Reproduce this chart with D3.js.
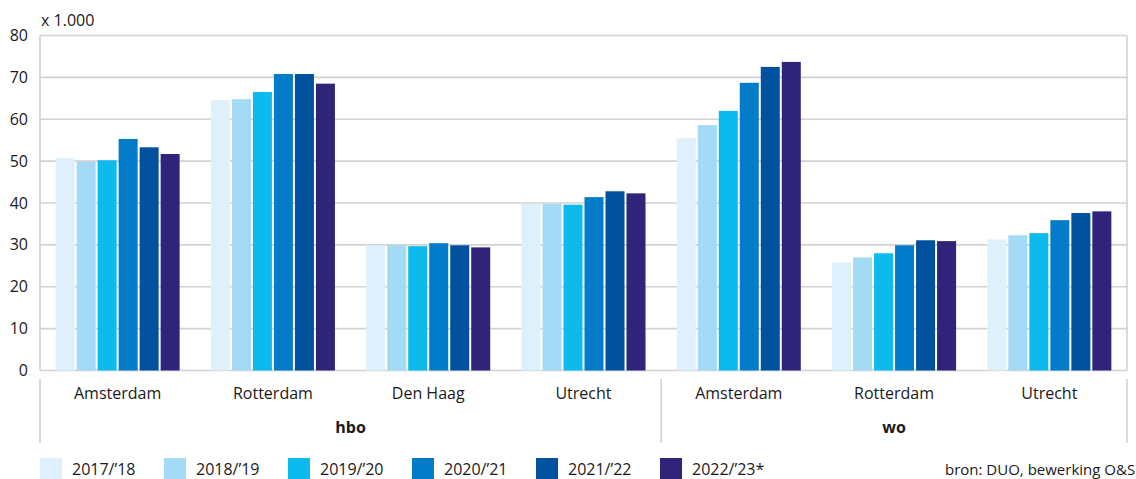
<!DOCTYPE html>
<html><head><meta charset="utf-8">
<script src="https://cdn.jsdelivr.net/npm/d3@7"></script>
<style>body{margin:0;background:#fff}svg{display:block}text{font-family:"Open Sans",sans-serif;fill:#1a1a1a}</style>
</head><body><svg id="c" width="1136" height="479"></svg>
<script>
const categories = ["Amsterdam","Rotterdam","Den Haag","Utrecht","Amsterdam","Rotterdam","Utrecht"];
const groups = [{name:"hbo", start:0, end:4},{name:"wo", start:4, end:7}];
const seriesNames = ["2017/’18","2018/’19","2019/’20","2020/’21","2021/’22","2022/’23*"];
const s2017 = [50.7,64.6,29.9,39.8,55.5,25.8,31.3];
const s2018 = [49.8,64.8,29.9,39.8,58.6,27.0,32.3];
const s2019 = [50.2,66.5,29.7,39.6,62.0,28.0,32.8];
const s2020 = [55.3,70.8,30.4,41.4,68.7,29.9,35.9];
const s2021 = [53.3,70.8,29.9,42.8,72.5,31.1,37.6];
const s2022 = [51.7,68.5,29.4,42.3,73.7,30.9,38.0];
const yTicks = [0,10,20,30,40,50,60,70,80];
const colors = ["#dff0fd","#a3daf6","#0dbaee","#027cc8","#00519e","#2f2479"];
const series = [s2017,s2018,s2019,s2020,s2021,s2022];

const svg = d3.select("#c");
const L=40, R=1127, T=35.5, B=370.5;
const x0 = d3.scaleBand().domain(d3.range(categories.length)).range([L,R]).paddingInner(0).paddingOuter(0);
const x1 = d3.scaleBand().domain(d3.range(series.length)).range([0,x0.bandwidth()]).paddingInner(0.095).paddingOuter(0.745);
const y = d3.scaleLinear().domain([0,80]).range([B,T]);

// gridlines
svg.append("g").selectAll("line").data(yTicks).join("line")
  .attr("x1",L).attr("x2",R).attr("y1",d=>y(d)).attr("y2",d=>y(d))
  .attr("stroke","#d2d2d2").attr("stroke-width",1.6);
// frame verticals
[L,R].forEach(xx=>svg.append("line").attr("x1",xx).attr("x2",xx).attr("y1",T).attr("y2",B)
  .attr("stroke","#cfcfcf").attr("stroke-width",1.5));

// y labels
svg.append("g").selectAll("text").data(yTicks).join("text")
  .attr("x",28).attr("y",d=>y(d)).attr("dy","0.35em").attr("text-anchor","end")
  .attr("font-size",16).text(d=>d);
svg.append("text").attr("x",41).attr("y",26).attr("font-size",16).text("x 1.000");

// bars
series.forEach((s,si)=>{
  svg.append("g").selectAll("rect").data(s).join("rect")
    .attr("x",(d,i)=>x0(i)+x1(si)).attr("width",x1.bandwidth())
    .attr("y",d=>y(d)).attr("height",d=>B-y(d)).attr("fill",colors[si]);
});

// category labels
svg.append("g").selectAll("text").data(categories).join("text")
  .attr("x",(d,i)=>x0(i)+x0.bandwidth()/2).attr("y",399).attr("text-anchor","middle")
  .attr("font-size",16).text(d=>d);
// group separators
const seps=[L, x0(4), R];
seps.forEach(xx=>svg.append("line").attr("x1",xx).attr("x2",xx).attr("y1",379).attr("y2",443)
  .attr("stroke","#cfcfcf").attr("stroke-width",1.5));
groups.forEach(g=>{
  const a=x0(g.start), b=g.end<categories.length?x0(g.end):R;
  svg.append("text").attr("x",(a+b)/2).attr("y",433).attr("text-anchor","middle")
    .attr("font-size",16).attr("font-weight","bold").text(g.name);
});

// legend
seriesNames.forEach((n,i)=>{
  const lx = 40 + i*124;
  svg.append("rect").attr("x",lx).attr("y",458).attr("width",22).attr("height",22).attr("fill",colors[i]);
  svg.append("text").attr("x",lx+32).attr("y",475).attr("font-size",16).text(n);
});
svg.append("text").attr("x",945).attr("y",475).attr("font-size",15).text("bron: DUO, bewerking O&S");
</script></body></html>
